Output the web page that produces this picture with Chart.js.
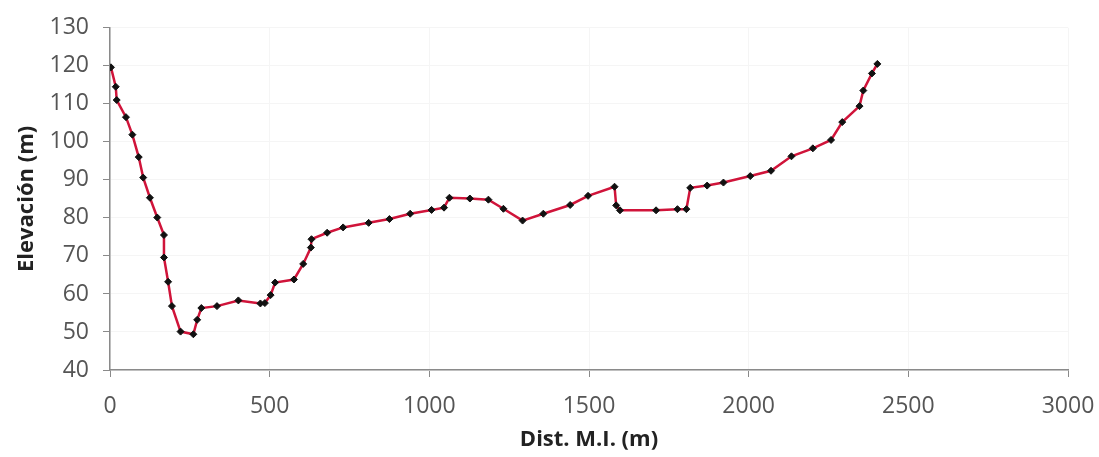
<!DOCTYPE html>
<html>
<head>
<meta charset="utf-8">
<script src="https://cdn.jsdelivr.net/npm/chart.js@4/dist/chart.umd.min.js"></script>
<style>
  html, body { margin: 0; padding: 0; background: #fff; }
  #wrap { width: 1099px; height: 457px; }
</style>
</head>
<body>
<div id="wrap"><canvas id="graph"></canvas></div>
<script>
// distance (m) and elevation (m)
const distX = [3, 18, 21, 50, 70, 90, 104, 125, 148, 169,
  169, 182, 194, 221, 261, 273, 286, 335, 402, 471,
  485, 503, 517, 576, 605, 629, 631, 680, 730, 810,
  875, 940, 1007, 1046, 1063, 1127, 1185, 1232, 1292, 1357,
  1441, 1497, 1580, 1585, 1597, 1710, 1777, 1805, 1817, 1870,
  1921, 2005, 2070, 2134, 2201, 2258, 2293, 2347, 2359, 2386,
  2403];
const elev = [119.6, 114.5, 111, 106.5, 101.9, 96, 90.6, 85.3, 80.1, 75.5,
  69.6, 63.2, 56.8, 50.1, 49.4, 53.2, 56.3, 56.8, 58.3, 57.5,
  57.6, 59.7, 63, 63.8, 67.9, 72.2, 74.4, 76.1, 77.5, 78.7,
  79.7, 81.1, 82.1, 82.7, 85.3, 85.1, 84.8, 82.4, 79.3, 81.1,
  83.4, 85.8, 88.2, 83.3, 82, 82, 82.3, 82.3, 87.9, 88.5,
  89.3, 91, 92.4, 96.2, 98.3, 100.5, 105.2, 109.4, 113.5, 118,
  120.5];
const xTicks = [0, 500, 1000, 1500, 2000, 2500, 3000];
const yTicks = [40, 50, 60, 70, 80, 90, 100, 110, 120, 130];

const canvas = document.querySelector('#graph');
const ctx = canvas.getContext('2d');

const points = distX.map((d, i) => ({ x: d, y: elev[i] }));
const tickFont = { family: 'Open Sans', size: 23 };
const titleFont = { family: 'Open Sans', size: 22, weight: 'bold' };

const chart = new Chart(ctx, {
  type: 'scatter',
  data: {
    datasets: [{
      data: points,
      showLine: true,
      borderColor: '#d0143a',
      borderWidth: 2.5,
      pointStyle: 'rectRot',
      pointRadius: 3.5,
      pointBackgroundColor: '#111',
      pointBorderColor: '#111',
      pointBorderWidth: 1
    }]
  },
  options: {
    responsive: true,
    maintainAspectRatio: false,
    animation: false,
    layout: { padding: { top: 24, right: 31, left: 0, bottom: 0 } },
    plugins: { legend: { display: false }, tooltip: { enabled: false } },
    scales: {
      x: {
        type: 'linear',
        min: 0,
        max: 3000,
        afterBuildTicks: (s) => { s.ticks = xTicks.map(v => ({ value: v })); },
        afterFit: (s) => { s.height = 87; s.paddingRight = 0; s.paddingLeft = 0; },
        grid: { color: '#f5f5f5', tickColor: '#8a8a8a', tickLength: 7 },
        border: { color: '#8a8a8a', width: 1.5 },
        ticks: { font: tickFont, color: '#555', padding: 16, maxRotation: 0, callback: (v) => String(v) },
        title: { display: true, text: 'Dist. M.I. (m)', font: titleFont, color: '#222', padding: { top: 0, bottom: 4 } }
      },
      y: {
        min: 40,
        max: 130,
        afterBuildTicks: (s) => { s.ticks = yTicks.map(v => ({ value: v })); },
        afterFit: (s) => { s.width = 110; },
        grid: { color: '#f5f5f5', tickColor: '#8a8a8a', tickLength: 7 },
        border: { color: '#8a8a8a', width: 1.5 },
        ticks: { font: tickFont, color: '#555', padding: 14, callback: (v) => String(v) },
        title: { display: true, text: 'Elevación (m)', font: titleFont, color: '#222', padding: { top: 14, bottom: 0 } }
      }
    }
  }
});
</script>
</body>
</html>
